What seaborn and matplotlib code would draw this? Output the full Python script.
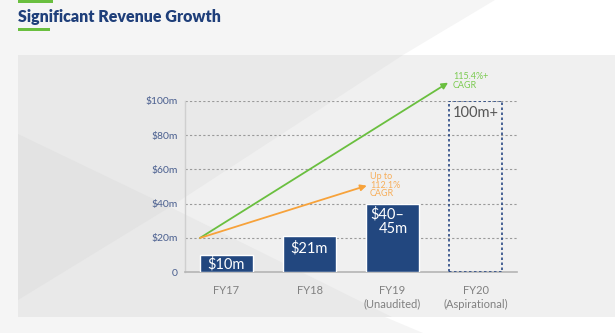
import matplotlib
matplotlib.use("Agg")
import matplotlib.pyplot as plt
import seaborn as sns
import pandas as pd
from matplotlib.patches import Polygon

# ---- data ----
categories = ["FY17", "FY18", "FY19\n(Unaudited)", "FY20\n(Aspirational)"]
revenue = [10, 21, 40, 100]
bar_labels = ["$10m", "$21m", "$40–", "45m", "100m+"]
yticks = [0, 20, 40, 60, 80, 100]
ytick_labels = ["0", "$20m", "$40m", "$60m", "$80m", "$100m"]
green_start = (-0.32, 20)
green_end = (2.67, 110.5)
orange_start = (-0.32, 20)
orange_end = (1.69, 50.5)
green_text = "115.4%+\nCAGR"
orange_text = "Up to\n112.1%\nCAGR"
title = "Significant Revenue Growth"

sns.set_theme(style="white")
plt.rcParams['font.family'] = ['Lato', 'DejaVu Sans']

W, H = 615, 333
fig = plt.figure(figsize=(W / 100, H / 100), dpi=100, facecolor="#f5f5f5")

def fx(px):
    return px / W

def fy(py):
    return 1 - py / H

def poly(pts, color, z=-10):
    fig.patches.append(Polygon([(fx(x), fy(y)) for x, y in pts], closed=True,
                               transform=fig.transFigure, facecolor=color,
                               edgecolor="none", zorder=z))

# outer background accents
poly([(495, 0), (615, 0), (615, 55), (403, 55)], "#ffffff")
poly([(385, 317), (615, 317), (615, 333), (423, 333)], "#ffffff")
# panel
poly([(18, 55), (615, 55), (615, 317), (18, 317)], "#e9e9e9", -9)
poly([(18, 134), (170, 207), (18, 300)], "#e3e3e3", -8)
poly([(170, 207), (403, 55), (615, 55), (615, 317), (392, 317)], "#f0f0f0", -8)

# title and accent bars
fig.text(fx(18), fy(17), title, fontsize=11.5, fontweight="heavy", color="#1f3f7a",
         ha="left", va="center")
poly([(18, 0), (53, 0), (53, 2.5), (18, 2.5)], "#6abf3f", -7)
poly([(18, 28), (50, 28), (50, 30.5), (18, 30.5)], "#6abf3f", -7)

ax = fig.add_axes([fx(185), fy(272.3), fx(517) - fx(185), fy(100.7) - fy(272.3)])
ax.set_facecolor("none")
ax.set_zorder(5)

df = pd.DataFrame({"cat": categories, "rev": revenue})
sns.barplot(data=df, x="cat", y="rev", ax=ax, color="#22477f", width=0.65,
            saturation=1, zorder=3)

# aspirational bar: dotted outline only
p = ax.patches[3]
p.set_facecolor("none")
p.set_edgecolor("#2a4a86")
p.set_linestyle((0, (1.5, 1.5)))
p.set_linewidth(1.2)

ax.set_xlim(-0.5, 3.5)
ax.set_ylim(0, 100)
ax.set_yticks(yticks)
ax.set_yticklabels(ytick_labels)
ax.set_xlabel("")
ax.set_ylabel("")

for y in yticks[1:]:
    ax.axhline(y, color="#9a9a9a", linestyle=(0, (2, 2)), linewidth=0.8, zorder=1)

for s in ["top", "right"]:
    ax.spines[s].set_visible(False)
ax.spines["left"].set_color("#cfcfcf")
ax.spines["bottom"].set_color("#b5b5b5")
ax.spines["left"].set_linewidth(1.0)
ax.spines["bottom"].set_linewidth(1.2)

ax.tick_params(axis="y", length=0, pad=5, labelsize=7.5, labelcolor="#4a5f8f")
ax.tick_params(axis="x", length=0, pad=9, labelsize=8, labelcolor="#808080")
for lbl in ax.get_xticklabels():
    lbl.set_linespacing(1.3)

# bar labels
kw = dict(color="white", fontsize=10.5, fontweight="normal", zorder=4)
ax.text(0, 4.8, bar_labels[0], ha="center", va="center", **kw)
ax.text(1, 14, bar_labels[1], ha="center", va="center", **kw)
ax.text(1.735, 34, bar_labels[2], ha="left", va="center", **kw)
ax.text(1.83, 25, bar_labels[3], ha="left", va="center", **kw)
ax.text(2.72, 93, bar_labels[4], ha="left", va="center", color="#555555", fontsize=10.5,
        fontweight="normal", zorder=4)

# CAGR arrows
ax.annotate("", xy=green_end, xytext=green_start,
            arrowprops=dict(arrowstyle="-|>", color="#6abf3f", lw=1.3,
                            mutation_scale=9, shrinkA=0, shrinkB=0),
            annotation_clip=False, zorder=5)
ax.annotate("", xy=orange_end, xytext=orange_start,
            arrowprops=dict(arrowstyle="-|>", color="#f7a23a", lw=1.3,
                            mutation_scale=9, shrinkA=0, shrinkB=0),
            annotation_clip=False, zorder=5)
ax.text(2.73, 116.5, green_text, ha="left", va="top", color="#7ccb52", fontsize=6.5,
        linespacing=0.95, clip_on=False)
ax.text(1.73, 58.5, orange_text, ha="left", va="top", color="#f7ae5a", fontsize=6.5,
        linespacing=0.95, clip_on=False)

fig.savefig("out.png", dpi=100, facecolor=fig.get_facecolor())
